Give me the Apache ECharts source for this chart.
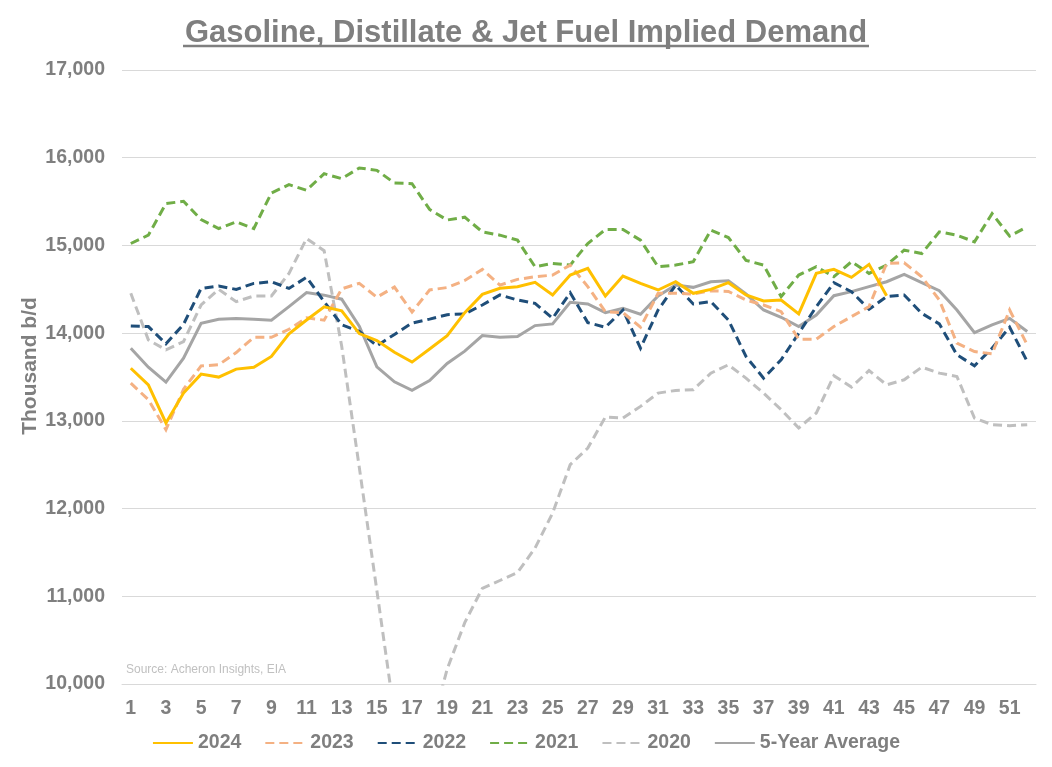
<!DOCTYPE html>
<html>
<head>
<meta charset="utf-8">
<script src="https://cdn.jsdelivr.net/npm/echarts@6/dist/echarts.min.js"></script>
<style>
html,body{margin:0;padding:0;background:#fff;}
#chart{width:1052px;height:767px;}
</style>
</head>
<body>
<div id="chart"></div>
<script>
const weeks = ['1','2','3','4','5','6','7','8','9','10','11','12','13','14','15','16','17','18','19','20','21','22','23','24','25','26','27','28','29','30','31','32','33','34','35','36','37','38','39','40','41','42','43','44','45','46','47','48','49','50','51','52'];

const y2024 = [13600,13410,12976,13317,13533,13499,13590,13612,13734,13991,14150,14300,14254,13995,13915,13782,13670,13820,13970,14234,14442,14511,14530,14579,14435,14662,14738,14423,14651,14567,14492,14586,14454,14499,14575,14435,14367,14378,14219,14681,14727,14636,14784,14427];

const y2023 = [13430,13241,12900,13360,13627,13639,13779,13953,13953,14044,14175,14148,14505,14568,14410,14525,14240,14492,14520,14600,14727,14548,14613,14643,14662,14776,14530,14245,14234,14067,14454,14454,14446,14484,14476,14378,14321,14245,13931,13931,14075,14188,14302,14795,14802,14643,14378,13885,13790,13764,14264,13866];

const y2022 = [14082,14075,13878,14100,14510,14537,14499,14567,14586,14510,14636,14360,14095,14020,13856,13985,14115,14160,14210,14220,14321,14435,14378,14340,14169,14461,14120,14067,14264,13828,14264,14548,14332,14359,14150,13734,13487,13696,13999,14302,14575,14473,14272,14416,14435,14226,14105,13753,13628,13828,14067,13677];

const y2021 = [15022,15117,15477,15503,15295,15193,15269,15193,15598,15693,15629,15818,15761,15883,15856,15712,15704,15410,15290,15322,15155,15117,15060,14757,14795,14776,15022,15181,15181,15060,14757,14776,14814,15174,15090,14830,14776,14416,14662,14757,14643,14814,14681,14776,14946,14908,15155,15117,15041,15363,15106,15212];

const y2020 = [14454,13923,13809,13904,14321,14499,14359,14423,14423,14681,15079,14940,13850,12470,11065,9650,9200,9420,10170,10700,11090,11180,11270,11550,11950,12500,12690,13044,13032,13165,13317,13347,13355,13544,13639,13487,13317,13127,12919,13089,13514,13385,13574,13411,13468,13612,13544,13506,13032,12957,12945,12957];

const yAvg = [13828,13612,13442,13715,14113,14158,14166,14158,14147,14302,14463,14433,14387,14080,13615,13445,13348,13460,13655,13795,13972,13953,13961,14086,14105,14351,14332,14234,14283,14215,14423,14548,14522,14586,14598,14446,14264,14181,14075,14207,14427,14473,14530,14586,14670,14575,14484,14264,14006,14094,14169,14018];

const yTicks = [10000,11000,12000,13000,14000,15000,16000,17000];

const seriesNames = ['2024','2023','2022','2021','2020','5-Year Average'];

const TXT = '#7f7f7f';
const FONT = '"Liberation Sans", Arial, sans-serif';

function mk(name, data, color, dashed, z) {
  return {
    name: name,
    type: 'line',
    data: data,
    symbol: 'none',
    smooth: false,
    z: z,
    lineStyle: { color: color, width: 3, type: dashed ? [9, 5] : 'solid', cap: 'butt', join: 'miter' },
    itemStyle: { color: color }
  };
}

const chart = echarts.init(document.getElementById('chart'), null, { renderer: 'canvas' });
chart.setOption({
  animation: false,
  backgroundColor: '#ffffff',
  title: {
    text: 'Gasoline, Distillate & Jet Fuel Implied Demand',
    left: 'center',
    top: 13,
    textStyle: { color: TXT, fontFamily: FONT, fontWeight: 'bold', fontSize: 31 }
  },
  graphic: [
    { type: 'line', shape: { x1: 183, y1: 46, x2: 869, y2: 46 }, style: { stroke: TXT, lineWidth: 2.5 }, silent: true },
    { type: 'text', left: 126, top: 664, style: { text: 'Source: Acheron Insights, EIA', fill: '#c0c0c0', font: '12px "Liberation Sans", Arial, sans-serif' }, silent: true },
    { type: 'text', x: 30, y: 366, rotation: Math.PI / 2, style: { text: 'Thousand b/d', fill: TXT, font: 'bold 21px "Liberation Sans", Arial, sans-serif', align: 'center', verticalAlign: 'middle' }, silent: true }
  ],
  legend: {
    data: seriesNames,
    bottom: 9,
    left: 'center',
    itemWidth: 40,
    itemHeight: 4,
    itemGap: 23,
    itemStyle: { opacity: 0 },
    textStyle: { color: TXT, fontFamily: FONT, fontWeight: 'bold', fontSize: 19.5 }
  },
  grid: { left: 122, right: 16, top: 70, bottom: 83, containLabel: false },
  xAxis: {
    type: 'category',
    data: weeks,
    boundaryGap: true,
    axisLine: { show: true, lineStyle: { color: '#d9d9d9', width: 1 } },
    axisTick: { show: false },
    axisLabel: { interval: 1, color: TXT, fontFamily: FONT, fontWeight: 'bold', fontSize: 19.5, margin: 15 }
  },
  yAxis: {
    type: 'value',
    min: 10000,
    max: 17000,
    interval: 1000,
    axisLine: { show: false },
    axisTick: { show: false },
    splitLine: { show: true, lineStyle: { color: '#d9d9d9', width: 1 } },
    axisLabel: {
      color: TXT, fontFamily: FONT, fontWeight: 'bold', fontSize: 19.5, margin: 17,
      formatter: function (v) { return yTicks.indexOf(v) >= 0 ? v.toLocaleString('en-US') : ''; }
    }
  },
  series: [
    mk('2020', y2020, '#bfbfbf', true, 2),
    mk('2021', y2021, '#70ad47', true, 3),
    mk('5-Year Average', yAvg, '#a5a5a5', false, 4),
    mk('2022', y2022, '#1f4e79', true, 5),
    mk('2023', y2023, '#f4b183', true, 6),
    mk('2024', y2024, '#ffc000', false, 7)
  ]
});
</script>
</body>
</html>
